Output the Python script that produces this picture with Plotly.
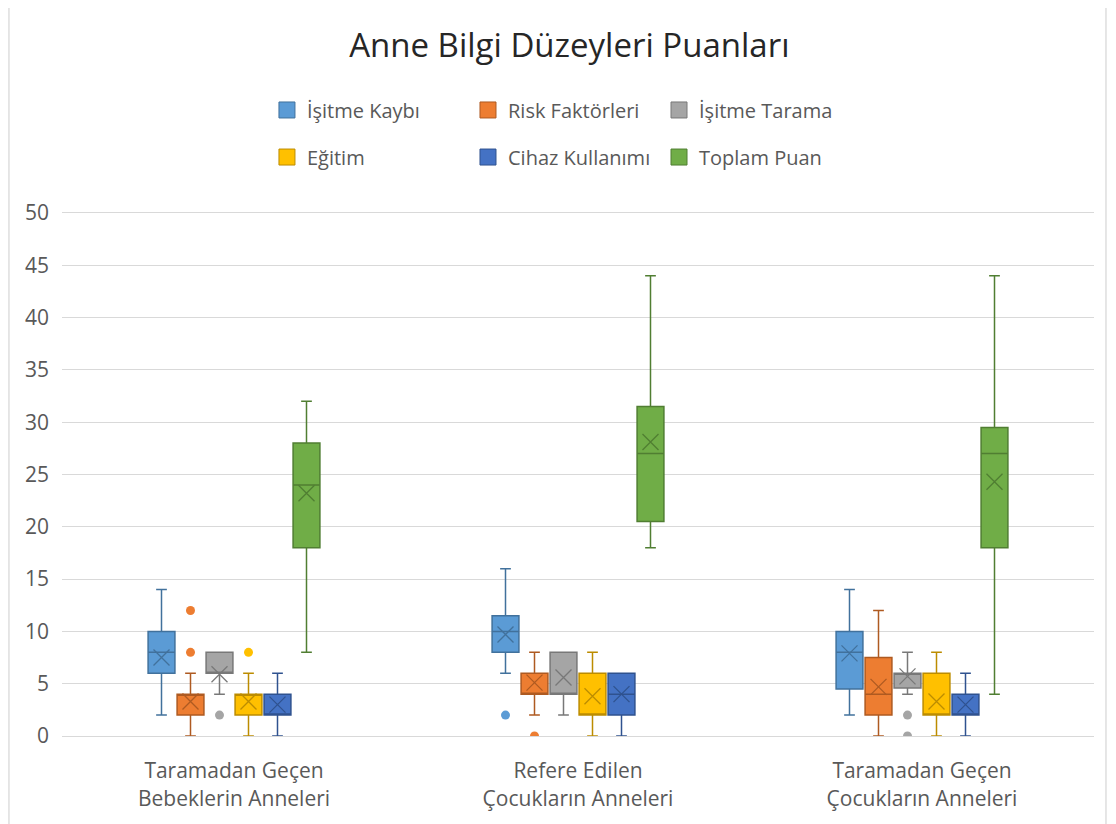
import plotly.graph_objects as go

categories = ["Taramadan Geçen<br>Bebeklerin Anneleri",
              "Refere Edilen<br>Çocukların Anneleri",
              "Taramadan Geçen<br>Çocukların Anneleri"]

series_names = ["İşitme Kaybı", "Risk Faktörleri", "İşitme Tarama",
                "Eğitim", "Cihaz Kullanımı", "Toplam Puan"]

# per series: values for the three groups
q1 = {
    "İşitme Kaybı": [6, 8, 4.5],
    "Risk Faktörleri": [2, 4, 2],
    "İşitme Tarama": [6, 4, 4.6],
    "Eğitim": [2, 2, 2],
    "Cihaz Kullanımı": [2, 2, 2],
    "Toplam Puan": [18, 20.5, 18],
}
median = {
    "İşitme Kaybı": [8, 10, 8],
    "Risk Faktörleri": [4, 4, 4],
    "İşitme Tarama": [6, 4, 6],
    "Eğitim": [4, 2, 2],
    "Cihaz Kullanımı": [2, 4, 2],
    "Toplam Puan": [24, 27, 27],
}
q3 = {
    "İşitme Kaybı": [10, 11.5, 10],
    "Risk Faktörleri": [4, 6, 7.5],
    "İşitme Tarama": [8, 8, 6],
    "Eğitim": [4, 6, 6],
    "Cihaz Kullanımı": [4, 6, 4],
    "Toplam Puan": [28, 31.5, 29.5],
}
lower = {
    "İşitme Kaybı": [2, 6, 2],
    "Risk Faktörleri": [0, 2, 0],
    "İşitme Tarama": [4, 2, 4],
    "Eğitim": [0, 0, 0],
    "Cihaz Kullanımı": [0, 0, 0],
    "Toplam Puan": [8, 18, 4],
}
upper = {
    "İşitme Kaybı": [14, 16, 14],
    "Risk Faktörleri": [6, 8, 12],
    "İşitme Tarama": [8, 8, 8],
    "Eğitim": [6, 8, 8],
    "Cihaz Kullanımı": [6, 6, 6],
    "Toplam Puan": [32, 44, 44],
}
means = {
    "İşitme Kaybı": [7.5, 9.7, 7.9],
    "Risk Faktörleri": [3.3, 5.1, 4.7],
    "İşitme Tarama": [5.9, 5.6, 5.7],
    "Eğitim": [3.3, 3.8, 3.3],
    "Cihaz Kullanımı": [3.0, 4.0, 3.0],
    "Toplam Puan": [23.2, 28.1, 24.3],
}
# outliers: list of (group index, value)
outliers = {
    "İşitme Kaybı": [(1, 2)],
    "Risk Faktörleri": [(0, 12), (0, 8), (1, 0)],
    "İşitme Tarama": [(0, 2), (2, 2), (2, 0)],
    "Eğitim": [(0, 8)],
    "Cihaz Kullanımı": [],
    "Toplam Puan": [],
}

fills = ["#5B9BD5", "#ED7D31", "#A5A5A5", "#FFC000", "#4472C4", "#70AD47"]
lines = ["#41719C", "#AE5A21", "#787878", "#BC8C00", "#2F528F", "#507E32"]

STEP = 0.0843
BOXW = 0.078

# legend placement: 3 columns x 2 rows
leg_cols = [0.1986, 0.3934, 0.5785]
leg_rows = [1.197, 1.107]

font_family = "'Open Sans', sans-serif"
legend_layout = {}

fig = go.Figure()
for s, name in enumerate(series_names):
    xs = [g + (s - 2.5) * STEP for g in range(len(categories))]
    leg_id = "legend" if s == 0 else f"legend{s + 1}"
    legend_layout[leg_id] = dict(
        x=leg_cols[s % 3], xanchor="left", y=leg_rows[s // 3], yanchor="middle",
        orientation="h", font=dict(family=font_family, size=20, color="#595959"),
        bgcolor="rgba(0,0,0,0)", itemclick=False, itemdoubleclick=False)
    fig.add_trace(go.Box(
        name=name, x=xs, q1=q1[name], median=median[name], q3=q3[name],
        lowerfence=lower[name], upperfence=upper[name],
        width=BOXW, whiskerwidth=0.4,
        fillcolor=fills[s], line=dict(color=lines[s], width=1.5),
        boxpoints=False, showlegend=False, hoverinfo="skip",
    ))
    fig.add_trace(go.Scatter(
        x=xs, y=means[name], mode="markers", showlegend=False,
        marker=dict(symbol="x-thin-open", size=16, color=lines[s],
                    line=dict(color=lines[s], width=1.3)),
        hoverinfo="skip",
    ))
    if outliers[name]:
        fig.add_trace(go.Scatter(
            x=[g + (s - 2.5) * STEP for g, _ in outliers[name]],
            y=[v for _, v in outliers[name]],
            mode="markers", showlegend=False,
            marker=dict(symbol="circle", size=9, color=fills[s],
                        line=dict(color=fills[s], width=0)),
            hoverinfo="skip",
        ))
    # legend entry (square swatch)
    fig.add_trace(go.Scatter(
        x=[None], y=[None], mode="markers", name=name, legend=leg_id,
        marker=dict(symbol="square", size=16, color=fills[s],
                    line=dict(color=lines[s], width=1)),
        hoverinfo="skip",
    ))

fig.update_layout(
    width=1116, height=824,
    paper_bgcolor="white", plot_bgcolor="white",
    margin=dict(l=54, r=30, t=205, b=96),
    title=dict(text="Anne Bilgi Düzeyleri Puanları", x=0.503, xanchor="center",
               y=0.955, yanchor="middle",
               font=dict(family=font_family, size=33, color="#262626")),
    font=dict(family=font_family, color="#595959", size=20),
    xaxis=dict(range=[-0.5, 2.5], tickmode="array",
               tickvals=list(range(len(categories))), ticktext=categories,
               showgrid=False, zeroline=False, showline=True, mirror=True,
               linecolor="#D9D9D9", linewidth=1.3, ticks="",
               ticklabelstandoff=16,
               tickfont=dict(size=21, color="#595959")),
    yaxis=dict(range=[0, 50], dtick=5, showgrid=True, gridcolor="#D9D9D9",
               gridwidth=1.3, zeroline=True, zerolinecolor="#D9D9D9",
               zerolinewidth=1.3, showline=False, ticks="",
               ticklabelstandoff=12,
               tickfont=dict(size=21, color="#595959")),
    shapes=[
        dict(type="line", xref="paper", yref="paper",
             x0=-0.0514, x1=-0.0514, y0=-0.2, y1=1.5,
             line=dict(color="#D9D9D9", width=1.3)),
        dict(type="line", xref="paper", yref="paper",
             x0=1.0116, x1=1.0116, y0=-0.2, y1=1.5,
             line=dict(color="#D9D9D9", width=1.3)),
    ],
    **legend_layout,
)

fig.write_html("out.html")
